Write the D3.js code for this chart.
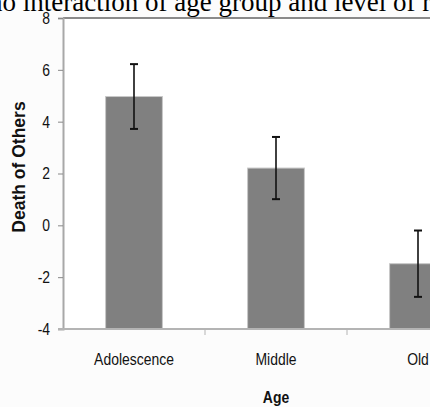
<!DOCTYPE html>
<meta charset="utf-8">
<style>
body { margin: 0; background: #fcfcfc; }
svg { display: block; }
.tick text { font-family: "Liberation Sans", Arial, sans-serif; }
</style>
<body>
<script src="https://d3js.org/d3.v7.min.js"></script>
<script>

// data
var categories = ["Adolescence", "Middle", "Old"];
var means = [4.97, 2.21, -1.48];
var errors = [1.25, 1.2, 1.28];
var yTicks = [-4, -2, 0, 2, 4, 6, 8];

var W = 430, H = 407;
var margin = {top: 18, left: 63, bottom: 329};
var step = 142;
var sx = 0.82; // text in the picture is squeezed sideways

var svg = d3.select("body").append("svg")
    .attr("width", W)
    .attr("height", H);

// scales
var x = d3.scaleBand()
    .domain(categories)
    .range([margin.left, margin.left + step * categories.length])
    .paddingInner(0.6)
    .paddingOuter(0.3);
var y = d3.scaleLinear().domain([-4, 8]).range([margin.bottom, margin.top]);

// plot area
svg.append("rect")
    .attr("x", margin.left)
    .attr("y", margin.top)
    .attr("width", step * 3)
    .attr("height", margin.bottom - margin.top)
    .attr("fill", "#fff");

// top border
svg.append("line")
    .attr("x1", margin.left).attr("x2", W)
    .attr("y1", margin.top).attr("y2", margin.top)
    .attr("stroke", "#8a8a8a").attr("stroke-width", 2);

// bars
svg.selectAll(".bar")
    .data(means)
  .enter().append("rect")
    .attr("class", "bar")
    .attr("x", function(d, i) { return x(categories[i]); })
    .attr("y", function(d) { return y(d); })
    .attr("width", x.bandwidth())
    .attr("height", function(d) { return y(-4) - y(d); })
    .attr("fill", "#808080")
    .attr("stroke", "#c8c8c8")
    .attr("stroke-width", 1);

// error bars
var eb = svg.selectAll(".err")
    .data(means)
  .enter().append("g")
    .attr("class", "err")
    .attr("transform", function(d, i) {
      return "translate(" + (x(categories[i]) + x.bandwidth() / 2) + ",0)";
    });
eb.append("line")
    .attr("y1", function(d, i) { return y(d + errors[i]); })
    .attr("y2", function(d, i) { return y(d - errors[i]); })
    .attr("stroke", "#111").attr("stroke-width", 1.6);
eb.append("line")
    .attr("x1", -4).attr("x2", 4)
    .attr("y1", function(d, i) { return y(d + errors[i]); })
    .attr("y2", function(d, i) { return y(d + errors[i]); })
    .attr("stroke", "#111").attr("stroke-width", 2);
eb.append("line")
    .attr("x1", -4).attr("x2", 4)
    .attr("y1", function(d, i) { return y(d - errors[i]); })
    .attr("y2", function(d, i) { return y(d - errors[i]); })
    .attr("stroke", "#111").attr("stroke-width", 2);

// y axis
var yAxis = svg.append("g")
    .attr("transform", "translate(" + margin.left + ",0)")
    .call(d3.axisLeft(y).tickValues(yTicks).tickSize(5).tickPadding(8)
      .tickFormat(function(d) { return String(d); }));
yAxis.select(".domain").attr("stroke", "#a8a8a8").attr("stroke-width", 2);
yAxis.selectAll(".tick line").attr("stroke", "#888");
yAxis.selectAll(".tick text")
    .attr("font-size", 17)
    .attr("fill", "#111")
    .attr("transform", function() {
      var tx = +d3.select(this).attr("x");
      return "translate(" + (tx * (1 - sx)) + ",0) scale(" + sx + ",1)";
    });

// x axis
var xAxis = svg.append("g")
    .attr("transform", "translate(0," + margin.bottom + ")")
    .call(d3.axisBottom(x).tickSize(0).tickPadding(0));
xAxis.select(".domain").remove();
xAxis.append("line")
    .attr("x1", margin.left - 5).attr("x2", W)
    .attr("stroke", "#b4b4b4").attr("stroke-width", 2);
xAxis.selectAll(".bound")
    .data(categories.slice(1))
  .enter().append("line")
    .attr("x1", function(d) { return x(d) - x.step() * x.paddingInner() / 2; })
    .attr("x2", function(d) { return x(d) - x.step() * x.paddingInner() / 2; })
    .attr("y1", 0).attr("y2", 6)
    .attr("stroke", "#b4b4b4").attr("stroke-width", 1);
xAxis.selectAll(".tick text")
    .attr("font-size", 17)
    .attr("fill", "#111")
    .attr("y", 36)
    .attr("dy", null)
    .attr("transform", "scale(" + sx + ",1)");

// axis titles
svg.append("text")
    .attr("transform", "translate(" + (x("Middle") + x.bandwidth() / 2) + ",403) scale(" + sx + ",1)")
    .attr("text-anchor", "middle")
    .attr("font-family", "Liberation Sans, Arial, sans-serif")
    .attr("font-weight", "bold")
    .attr("font-size", 17)
    .attr("fill", "#111")
    .text("Age");

svg.append("text")
    .attr("transform", "translate(25,167) rotate(-90)")
    .attr("text-anchor", "middle")
    .attr("font-family", "Liberation Sans, Arial, sans-serif")
    .attr("font-weight", "bold")
    .attr("font-size", 17.5)
    .attr("fill", "#111")
    .text("Death of Others");

// caption cut off at the top of the picture
svg.append("text")
    .attr("x", -11)
    .attr("y", 10.5)
    .attr("font-family", "Liberation Serif, Times New Roman, serif")
    .attr("font-size", 27)
    .attr("fill", "#000")
    .text("no interaction of age group and level of religiosity");

</script>
